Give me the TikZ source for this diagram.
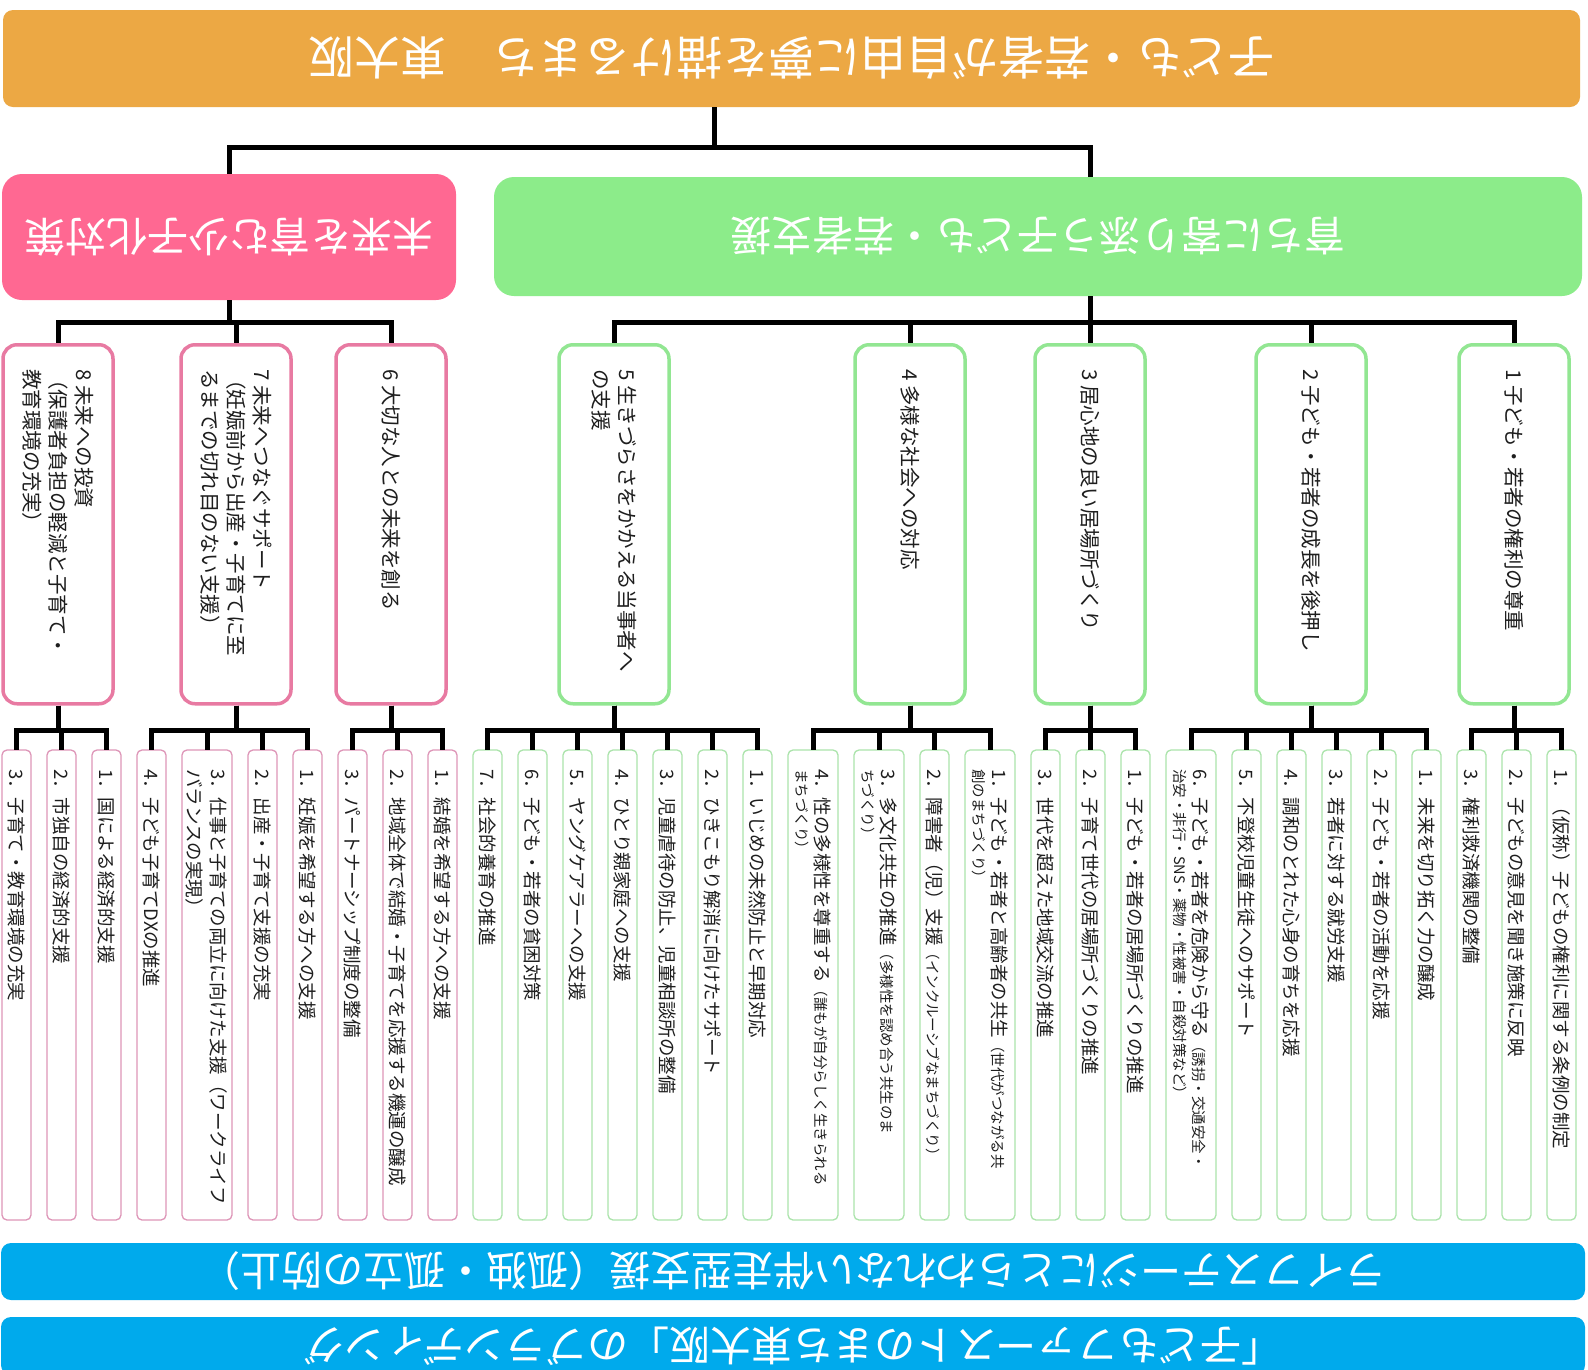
\documentclass[tikz,border=0pt]{standalone}
\usepackage{fontspec}
\setmainfont{Noto Sans CJK JP}
\usepackage{graphicx}
\usetikzlibrary{positioning}
\definecolor{bannerorange}{RGB}{236,168,68}
\definecolor{goalpink}{RGB}{255,104,146}
\definecolor{goalgreen}{RGB}{140,236,138}
\definecolor{pinkline}{RGB}{232,122,162}
\definecolor{greenline}{RGB}{146,230,146}
\definecolor{leafpink}{RGB}{222,150,184}
\definecolor{leafgreen}{RGB}{172,228,172}
\definecolor{bannerblue}{RGB}{0,170,236}
\definecolor{inkgray}{RGB}{30,30,30}
\newcommand{\flip}[1]{\rotatebox{180}{#1}}
\newcommand{\smallpart}[1]{{\fontsize{14.5}{19}\selectfont #1}}
\newcommand{\goaltext}[2][0pt]{\rotatebox{-90}{\parbox{310pt}{\raggedright\hangindent=#1\hangafter=1\relax #2}}}
\newcommand{\leaftext}[1]{\makebox[0pt]{\rotatebox{-90}{\parbox{432pt}{\raggedright\hangindent=1.55em\hangafter=1\relax #1}}}}
\tikzset{
  banner/.style={rectangle, rounded corners=10pt, text=white, inner sep=0pt},
  conn/.style={line width=5pt, black},
  goalp/.style={draw=pinkline, rectangle, rounded corners=14pt, line width=3.5pt, fill=white,
    minimum width=110pt, minimum height=359pt, inner sep=0pt, text=inkgray,
    font=\fontsize{20.5}{26}\selectfont, anchor=north},
  goalg/.style={goalp, draw=greenline},
  leafp/.style={draw=leafpink, rectangle, rounded corners=5pt, line width=1.3pt, fill=white,
    minimum width=29pt, minimum height=470pt, inner sep=1pt, outer sep=0pt, text=inkgray,
    font=\fontsize{18.5}{24}\selectfont},
  leafg/.style={leafp, draw=leafgreen},
  wide/.style={minimum width=50pt},
}
\begin{document}
\begin{tikzpicture}[x=1pt, y=1pt, node distance=16pt]
  \useasboundingbox[fill=white] (0,0) rectangle (1588,-1369);

  \node[banner, fill=bannerorange, minimum width=1577pt, minimum height=97pt, font=\fontsize{46}{50}\selectfont] (top) at (791.5,-58.5) {\flip{子ども・若者が自由に夢を描けるまち　東大阪}};
  \node[banner, fill=goalpink, rounded corners=20pt, minimum width=454pt, minimum height=126pt, font=\fontsize{41}{46}\selectfont] (pink) at (229,-237) {\flip{未来を育む少子化対策}};
  \node[banner, fill=goalgreen, rounded corners=20pt, minimum width=1088pt, minimum height=119pt, font=\fontsize{41}{46}\selectfont] (green) at (1038,-236.5) {\flip{育ちに寄り添う子ども・若者支援}};

  \node[goalp] (m8) at (58,-343) {\goaltext[0.85em]{8~未来への投資\\（保護者負担の軽減と子育て・\\教育環境の充実）}};
  \node[goalp] (m7) at (236,-343) {\goaltext[0.85em]{7~未来へつなぐサポート\\（妊娠前から出産・子育てに至\\るまでの切れ目のない支援）}};
  \node[goalp] (m6) at (391,-343) {\goaltext{6~大切な人との未来を創る}};
  \node[goalg] (m5) at (614,-343) {\goaltext{5~生きづらさをかかえる当事者へ\\の支援}};
  \node[goalg] (m4) at (910,-343) {\goaltext{4~多様な社会への対応}};
  \node[goalg] (m3) at (1090,-343) {\goaltext{3~居心地の良い居場所づくり}};
  \node[goalg] (m2) at (1311,-343) {\goaltext{2~子ども・若者の成長を後押し}};
  \node[goalg] (m1) at (1514,-343) {\goaltext{1~子ども・若者の権利の尊重}};

  \node[leafp, anchor=north west] (l83) at (2,-750) {\leaftext{3．子育て・教育環境の充実}};
  \node[leafp, right=of l83] (l82) {\leaftext{2．市独自の経済的支援}};
  \node[leafp, right=of l82] (l81) {\leaftext{1．国による経済的支援}};
  \node[leafp, right=of l81] (l74) {\leaftext{4．子ども子育てDXの推進}};
  \node[leafp, wide, right=of l74] (l73) {\leaftext{3．仕事と子育ての両立に向けた支援（ワークライフ\\バランスの実現）}};
  \node[leafp, right=of l73] (l72) {\leaftext{2．出産・子育て支援の充実}};
  \node[leafp, right=of l72] (l71) {\leaftext{1．妊娠を希望する方への支援}};
  \node[leafp, right=of l71] (l63) {\leaftext{3．パートナーシップ制度の整備}};
  \node[leafp, right=of l63] (l62) {\leaftext{2．地域全体で結婚・子育てを応援する機運の醸成}};
  \node[leafp, right=of l62] (l61) {\leaftext{1．結婚を希望する方への支援}};
  \node[leafg, right=of l61] (l57) {\leaftext{7．社会的養育の推進}};
  \node[leafg, right=of l57] (l56) {\leaftext{6．子ども・若者の貧困対策}};
  \node[leafg, right=of l56] (l55) {\leaftext{5．ヤングケアラーへの支援}};
  \node[leafg, right=of l55] (l54) {\leaftext{4．ひとり親家庭への支援}};
  \node[leafg, right=of l54] (l53) {\leaftext{3．児童虐待の防止、児童相談所の整備}};
  \node[leafg, right=of l53] (l52) {\leaftext{2．ひきこもり解消に向けたサポート}};
  \node[leafg, right=of l52] (l51) {\leaftext{1．いじめの未然防止と早期対応}};
  \node[leafg, wide, right=of l51] (l44) {\leaftext{4．性の多様性を尊重する\smallpart{（誰もが自分らしく生きられる}\\[-5pt]\smallpart{まちづくり）}}};
  \node[leafg, wide, right=of l44] (l43) {\leaftext{3．多文化共生の推進\smallpart{（多様性を認め合う共生のま}\\[-5pt]\smallpart{ちづくり）}}};
  \node[leafg, right=of l43] (l42) {\leaftext{2．障害者（児）支援\smallpart{（インクルーシブなまちづくり）}}};
  \node[leafg, wide, right=of l42] (l41) {\leaftext{1．子ども・若者と高齢者の共生\smallpart{（世代がつながる共}\\[-5pt]\smallpart{創のまちづくり）}}};
  \node[leafg, right=of l41] (l33) {\leaftext{3．世代を超えた地域交流の推進}};
  \node[leafg, right=of l33] (l32) {\leaftext{2．子育て世代の居場所づくりの推進}};
  \node[leafg, right=of l32] (l31) {\leaftext{1．子ども・若者の居場所づくりの推進}};
  \node[leafg, wide, right=of l31] (l26) {\leaftext{6．子ども・若者を危険から守る\smallpart{（誘拐・交通安全・}\\[-5pt]\smallpart{治安・非行・SNS・薬物・性被害・自殺対策など）}}};
  \node[leafg, right=of l26] (l25) {\leaftext{5．不登校児童生徒へのサポート}};
  \node[leafg, right=of l25] (l24) {\leaftext{4．調和のとれた心身の育ちを応援}};
  \node[leafg, right=of l24] (l23) {\leaftext{3．若者に対する就労支援}};
  \node[leafg, right=of l23] (l22) {\leaftext{2．子ども・若者の活動を応援}};
  \node[leafg, right=of l22] (l21) {\leaftext{1．未来を切り拓く力の醸成}};
  \node[leafg, right=of l21] (l13) {\leaftext{3．権利救済機関の整備}};
  \node[leafg, right=of l13] (l12) {\leaftext{2．子どもの意見を聞き施策に反映}};
  \node[leafg, right=of l12] (l11) {\leaftext{1．（仮称）子どもの権利に関する条例の制定}};

  \node[banner, fill=bannerblue, minimum width=1584pt, minimum height=57pt, font=\fontsize{41}{46}\selectfont] (blue1) at (793,-1271.5) {\flip{ライフステージにとらわれない伴走型支援（孤独・孤立の防止）}};
  \node[banner, fill=bannerblue, minimum width=1584pt, minimum height=58pt, font=\fontsize{41}{46}\selectfont] (blue2) at (793,-1346) {\flip{「子どもファーストのまち東大阪」のブランディング}};

  \draw[conn] ([xshift=-77pt]top.south) -- ++(0,-40) -| (pink.north);
  \draw[conn] ([xshift=-77pt]top.south) -- ++(0,-40) -| ([xshift=52pt]green.north);
  \foreach \g in {m8,m7,m6}
    \draw[conn] (pink.south) -- ++(0,-22) -| (\g.north);
  \foreach \g in {m5,m4,m3,m2,m1}
    \draw[conn] ([xshift=52pt]green.south) -- ++(0,-26) -| (\g.north);
  \foreach \l in {l81,l82,l83}
    \draw[conn] (m8.south) -- ++(0,-25) -| (\l.north);
  \foreach \l in {l71,l72,l73,l74}
    \draw[conn] (m7.south) -- ++(0,-25) -| (\l.north);
  \foreach \l in {l61,l62,l63}
    \draw[conn] (m6.south) -- ++(0,-25) -| (\l.north);
  \foreach \l in {l51,l52,l53,l54,l55,l56,l57}
    \draw[conn] (m5.south) -- ++(0,-25) -| (\l.north);
  \foreach \l in {l41,l42,l43,l44}
    \draw[conn] (m4.south) -- ++(0,-25) -| (\l.north);
  \foreach \l in {l31,l32,l33}
    \draw[conn] (m3.south) -- ++(0,-25) -| (\l.north);
  \foreach \l in {l21,l22,l23,l24,l25,l26}
    \draw[conn] (m2.south) -- ++(0,-25) -| (\l.north);
  \foreach \l in {l11,l12,l13}
    \draw[conn] (m1.south) -- ++(0,-25) -| (\l.north);
\end{tikzpicture}
\end{document}
